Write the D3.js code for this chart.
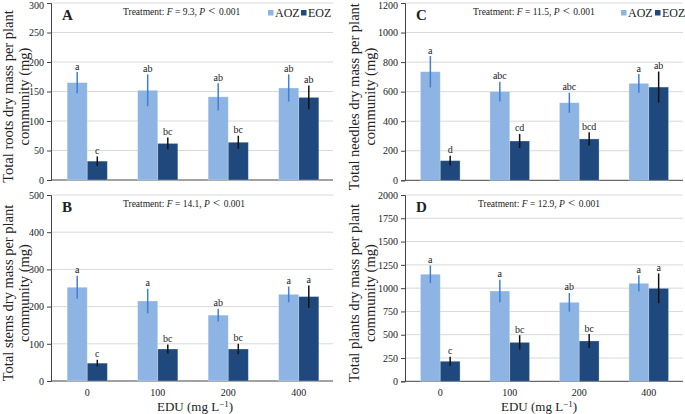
<!DOCTYPE html>
<html><head><meta charset="utf-8">
<script src="https://cdn.jsdelivr.net/npm/d3@7"></script>
<style>
body{margin:0;background:#fff;}
</style></head>
<body><svg id="c" width="685" height="414" font-family="'Liberation Serif', 'Times New Roman', 'DejaVu Serif', serif"></svg>
<script>
const edu = ["0","100","200","400"];
const seriesNames = ["AOZ","EOZ"];

const rootsAOZ = [165,152,141,156], rootsAOZErr = [18,27,23,23];
const rootsEOZ = [32,62,64,140], rootsEOZErr = [8,10,11,20];
const rootsLetAOZ = ["a","ab","ab","ab"], rootsLetEOZ = ["c","bc","bc","ab"];

const stemsAOZ = [252,215,177,233], stemsAOZErr = [31,33,17,21];
const stemsEOZ = [48,86,86,227], stemsEOZErr = [9,12,14,30];
const stemsLetAOZ = ["a","a","ab","a"], stemsLetEOZ = ["c","bc","bc","a"];

const needlesAOZ = [735,600,525,656], needlesAOZErr = [106,67,68,63];
const needlesEOZ = [133,266,280,631], needlesEOZErr = [33,48,45,105];
const needlesLetAOZ = ["a","abc","abc","a"], needlesLetEOZ = ["d","cd","bcd","ab"];

const plantsAOZ = [1149,969,848,1052], plantsAOZErr = [95,120,100,87];
const plantsEOZ = [215,418,433,998], plantsEOZErr = [48,77,74,160];
const plantsLetAOZ = ["a","a","ab","a"], plantsLetEOZ = ["c","bc","bc","a"];

const ticksA = [0,50,100,150,200,250,300];
const ticksB = [0,100,200,300,400,500];
const ticksC = [0,200,400,600,800,1000,1200];
const ticksD = [0,250,500,750,1000,1250,1500,1750,2000];

const colAOZ = "#8db4e2", colEOZ = "#1f497d";
const errAOZ = "#3f7fd6", errEOZ = "#111";
const FF = "'Liberation Serif', 'Times New Roman', serif";

const svg = d3.select("#c");

function txt(sel){ return sel.attr("font-family",FF).attr("fill","#222"); }

function panel(o){
  const g = svg.append("g");
  const x = d3.scaleBand().domain(edu).range([o.x0,o.x1]).paddingInner(0.43).paddingOuter(0.215);
  const xs = d3.scaleBand().domain(seriesNames).range([0,x.bandwidth()]);
  const top = o.ticks[o.ticks.length-1];
  const y = d3.scaleLinear().domain([0,top]).range([o.y0,o.y1]);
  g.selectAll("line.grid").data(o.ticks.slice(1)).join("line")
    .attr("x1",o.axisX).attr("x2",o.gridEnd).attr("y1",d=>y(d)).attr("y2",d=>y(d))
    .attr("stroke","#d9d9d9").attr("stroke-width",1);
  const ax = g.append("g").attr("transform",`translate(${o.axisX},0)`)
    .call(d3.axisLeft(y).tickValues(o.ticks).tickSize(4).tickPadding(3).tickFormat(d3.format("d")));
  ax.attr("font-family",FF);
  ax.select(".domain").attr("stroke","#444");
  ax.selectAll(".tick line").attr("stroke","#444");
  ax.selectAll("text").attr("font-size","10px").attr("fill","#222").attr("font-family",FF)
    .attr("dy",d=>(d===top && o.y1<10) ? "0.55em" : "0.32em");
  g.append("line").attr("x1",o.axisX).attr("x2",o.gridEnd).attr("y1",y(0)).attr("y2",y(0))
    .attr("stroke","#444").attr("stroke-width",1);
  const data = edu.map((e,i)=>[
    {e, s:"AOZ", v:o.aoz[i], err:o.aozErr[i], lab:o.letA[i]},
    {e, s:"EOZ", v:o.eoz[i], err:o.eozErr[i], lab:o.letE[i]}
  ]).flat();
  g.selectAll("rect.bar").data(data).join("rect")
    .attr("x",d=>x(d.e)+xs(d.s)).attr("width",xs.bandwidth())
    .attr("y",d=>y(d.v)).attr("height",d=>y(0)-y(d.v))
    .attr("fill",d=>d.s==="AOZ"?colAOZ:colEOZ)
    .attr("stroke","#ffffff").attr("stroke-opacity",0.35).attr("stroke-width",0.8);
  g.selectAll("line.err").data(data).join("line")
    .attr("x1",d=>x(d.e)+xs(d.s)+xs.bandwidth()/2).attr("x2",d=>x(d.e)+xs(d.s)+xs.bandwidth()/2)
    .attr("y1",d=>y(d.v+d.err)).attr("y2",d=>y(d.v-d.err))
    .attr("stroke",d=>d.s==="AOZ"?errAOZ:errEOZ).attr("stroke-width",1.5);
  txt(g.selectAll("text.let").data(data).join("text"))
    .attr("x",d=>x(d.e)+xs(d.s)+xs.bandwidth()/2).attr("y",d=>y(d.v+d.err)-2.5)
    .attr("text-anchor","middle").attr("font-size","10px").text(d=>d.lab);
  txt(g.append("text")).attr("x",o.axisX+11).attr("y",o.y1+17).attr("font-size","15px").attr("font-weight","bold").text(o.letter);
  const t = txt(g.append("text")).attr("x",o.tx).attr("y",o.y1+12).attr("font-size","9.5px");
  t.append("tspan").text("Treatment:  ");
  t.append("tspan").attr("font-style","italic").text("F");
  t.append("tspan").text(" = "+o.F+", ");
  t.append("tspan").attr("font-style","italic").text("P");
  t.append("tspan").attr("font-size","13px").text(" < ");
  t.append("tspan").text("0.001");
  const ly = (o.y0+o.y1)/2 + 5;
  const yl = txt(g.append("text")).attr("transform",`translate(${o.labX},${ly}) rotate(-90)`)
    .attr("text-anchor","middle").attr("font-size","14.5px");
  yl.append("tspan").attr("x",0).attr("dy",0).text(o.ylab1);
  yl.append("tspan").attr("x",0).attr("dy",16).text("community (mg)");
  if(o.legend){
    const L = o.legend;
    g.append("rect").attr("x",L[0]).attr("y",10).attr("width",5.5).attr("height",5.5).attr("fill",colAOZ);
    txt(g.append("text")).attr("x",L[0]+7).attr("y",17).attr("font-size","12px").text("AOZ");
    g.append("rect").attr("x",L[1]).attr("y",10).attr("width",5.5).attr("height",5.5).attr("fill",colEOZ);
    txt(g.append("text")).attr("x",L[1]+7).attr("y",17).attr("font-size","12px").text("EOZ");
  }
  if(o.xlab){
    txt(g.selectAll("text.xt").data(edu).join("text"))
      .attr("x",d=>x(d)+x.bandwidth()/2).attr("y",396).attr("text-anchor","middle")
      .attr("font-size","10px").text(d=>d);
    const xl = txt(g.append("text")).attr("x",o.xlabX).attr("y",411).attr("text-anchor","middle").attr("font-size","13px");
    xl.append("tspan").text("EDU (mg L");
    xl.append("tspan").attr("dy",-4).attr("font-size","9px").text("−1");
    xl.append("tspan").attr("dy",4).text(")");
  }
}

panel({x0:52,x1:334,axisX:51,gridEnd:333,y0:180,y1:3,ticks:ticksA,aoz:rootsAOZ,aozErr:rootsAOZErr,eoz:rootsEOZ,eozErr:rootsEOZErr,
  letA:rootsLetAOZ,letE:rootsLetEOZ,letter:"A",tx:123,F:"9.3",labX:13,ylab1:"Total roots dry mass per plant",legend:[268,301]});
panel({x0:52,x1:334,axisX:51,gridEnd:333,y0:381,y1:195,ticks:ticksB,aoz:stemsAOZ,aozErr:stemsAOZErr,eoz:stemsEOZ,eozErr:stemsEOZErr,
  letA:stemsLetAOZ,letE:stemsLetEOZ,letter:"B",tx:123,F:"14.1",labX:13,ylab1:"Total stems dry mass per plant",xlab:true,xlabX:195});
panel({x0:405.5,x1:683.5,axisX:405,gridEnd:683,y0:180.3,y1:3,ticks:ticksC,aoz:needlesAOZ,aozErr:needlesAOZErr,eoz:needlesEOZ,eozErr:needlesEOZErr,
  letA:needlesLetAOZ,letE:needlesLetEOZ,letter:"C",tx:473,F:"11.5",labX:359,ylab1:"Total needles dry mass per plant",legend:[621,655]});
panel({x0:405.5,x1:683.5,axisX:405,gridEnd:683,y0:381.3,y1:195,ticks:ticksD,aoz:plantsAOZ,aozErr:plantsAOZErr,eoz:plantsEOZ,eozErr:plantsEOZErr,
  letA:plantsLetAOZ,letE:plantsLetEOZ,letter:"D",tx:478,F:"12.9",labX:359,ylab1:"Total plants dry mass per plant",xlab:true,xlabX:539});
</script></body></html>
